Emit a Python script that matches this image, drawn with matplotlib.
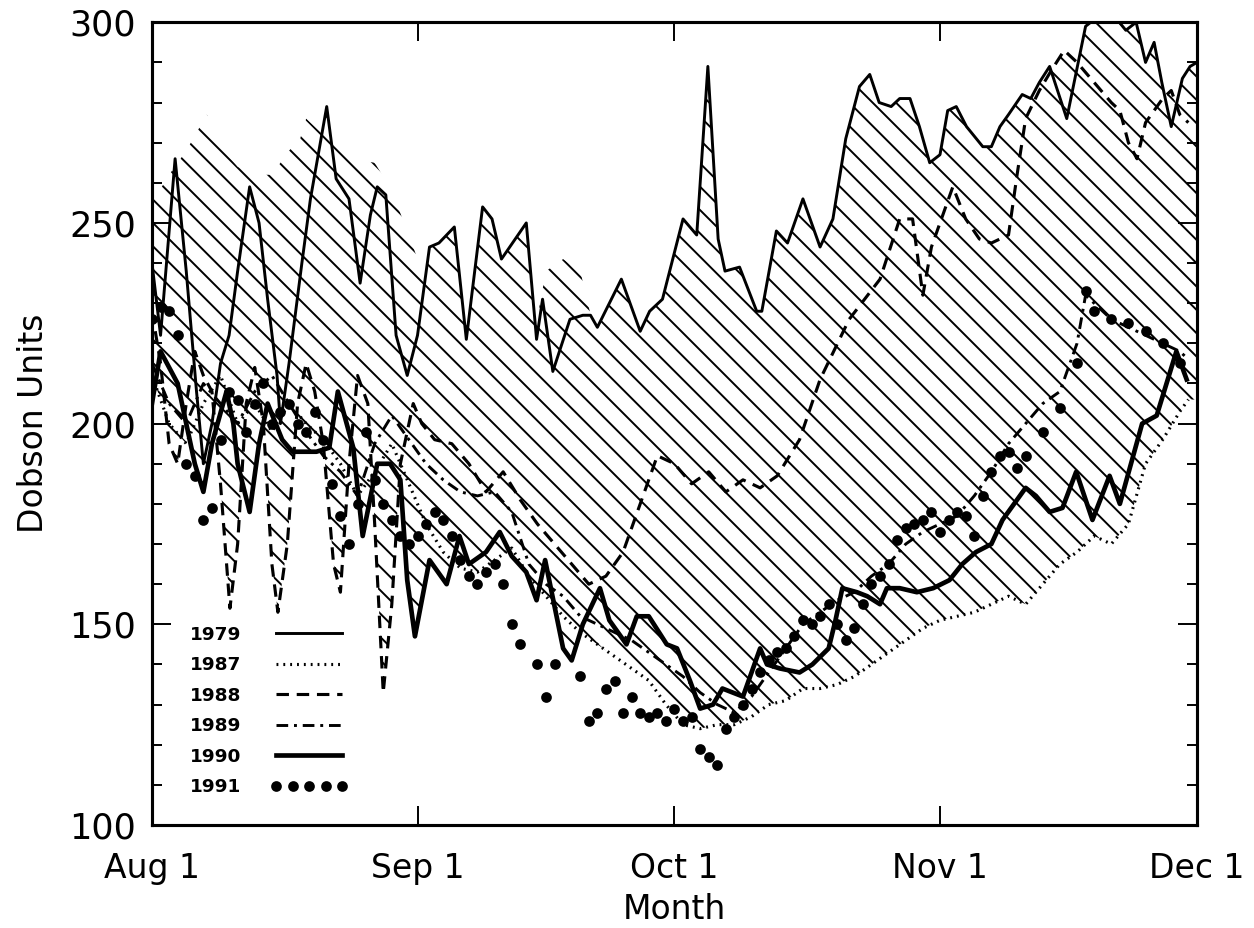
import numpy as np
import matplotlib
matplotlib.use('Agg')
import matplotlib.pyplot as plt
from matplotlib.ticker import MultipleLocator

plt.rcParams['font.family'] = ['DejaVu Sans']
plt.rcParams['hatch.linewidth'] = 1.0
plt.rcParams['hatch.color'] = 'black'

# days after Aug 1, total column ozone (Dobson Units)
d1979 = [0, 1, 2.7, 4, 5.2, 6, 7, 8, 9, 10, 11.4, 12.5, 13.5, 14.6, 15, 16, 17.5, 18.5, 20.4,
         21.5, 23, 24.3, 25.5, 26.3, 27.3, 28.5, 29.8, 31, 32.4, 33.5, 35.3, 36.7, 38.6, 39.7,
         40.8, 43.7, 44.9, 45.6, 46.8, 48.8, 50.3, 51.2, 52, 54.8, 57, 58.1, 59.6, 62, 63.6,
         64.9, 66.1, 66.9, 68.6, 70.6, 71.2, 72.9, 74.2, 76, 78, 79.5, 81, 82.6, 83.8, 84.9,
         86.3, 87.3, 88.5, 89.6, 90.8, 92, 92.9, 93.9, 95.1, 97, 98, 99, 100, 101.6, 102.6,
         103.6, 104.8, 106.8, 109, 110.2, 111.4, 113.7, 114.9, 116, 117, 117.9, 119, 120.3,
         121.2, 122]
v1979 = [240, 222, 266, 238, 208, 190, 200, 215, 222, 238, 259, 250, 231, 212, 200, 215, 240,
         256, 279, 261, 256, 235, 252, 259, 257, 222, 212, 222, 244, 245, 249, 221, 254, 251,
         241, 250, 221, 231, 213, 226, 227, 227, 224, 236, 223, 228, 231, 251, 247,
         289, 246, 238, 239, 228, 228, 248, 245, 256, 244, 251, 271, 284, 287, 280,
         279, 281, 281, 274, 265, 267, 278, 279, 274, 269, 269, 274, 277, 282, 281,
         285, 289, 276, 299, 301, 304, 298, 300, 290, 295, 285, 274, 286,
         289, 290]

d1987 = [0, 2, 4, 6, 8, 10, 12, 14, 16, 18, 20, 22, 24, 26, 28, 30, 32, 34, 36, 38, 40, 42,
         44, 46, 48, 50, 52, 54, 56, 58, 60, 62, 64, 66, 68, 70, 72, 74, 76, 78, 80, 82, 84,
         86, 88, 90, 92, 94, 96, 98, 100, 102, 104, 106, 108, 110, 112, 114, 116, 118, 120, 121]
v1987 = [212, 200, 195, 205, 212, 200, 205, 198, 205, 200, 196, 190, 182, 188, 195, 185, 175,
         168, 164, 163, 166, 169, 162, 157, 152, 148, 145, 142, 139, 136, 130, 125, 124, 125,
         125, 127, 130, 131, 134, 134, 135, 137, 140, 143, 146, 149, 151, 152, 153, 155, 157,
         155, 160, 165, 168, 172, 170, 175, 190, 196, 203, 206]

d1988 = [0, 1, 2, 3, 4, 5, 6, 7, 8, 9.1, 10, 11, 12, 13, 14, 14.7, 15.8, 17, 18, 19, 20,
         21.2, 22, 23, 24, 25.2, 26, 27, 28, 29, 30.5, 31.5, 33, 35, 37, 39, 41, 43, 45, 47,
         49, 51, 53, 55, 57, 59, 61, 63, 65, 67, 69, 71, 73, 75.6, 78, 81.4, 85, 87.3, 88.8,
         90, 91, 93.5, 95, 96.6, 98, 100, 101, 102, 103.6, 105, 106.5, 108, 110, 112, 113,
         114, 115, 116, 118, 119, 120, 121]
v1988 = [228, 215, 195, 190, 205, 218, 212, 208, 185, 154, 170, 205, 214, 200, 165, 153, 170,
         205, 215, 208, 195, 165, 158, 190, 212, 205, 175, 133, 155, 190, 205, 200, 196, 195,
         190, 183, 188, 181, 175, 170, 165, 160, 162, 168, 180, 192, 190, 185, 188, 183, 186,
         184, 187, 196, 211, 226, 236, 251, 251, 232, 244, 259, 251, 246, 245, 247, 262, 276,
         283, 288, 293, 290, 285, 280, 278, 270, 266, 275, 281, 283, 277, 275]

d1989 = [0, 2, 4, 6, 8, 10, 12, 14, 16, 18, 20, 22, 24, 26, 28, 30, 32, 34, 36, 38, 40, 42,
         44, 46, 48, 50, 52, 54, 56, 58, 60, 62, 64, 66, 68, 70, 72, 74, 76, 78, 80, 82, 84,
         86, 88, 90, 92, 94, 96, 98, 100, 102, 104, 106, 107, 108, 109, 110, 112, 114, 116,
         118, 120, 121]
v1989 = [215, 205, 200, 210, 205, 200, 208, 212, 205, 198, 192, 188, 182, 195, 202, 196, 190,
         186, 183, 182, 183, 178, 165, 160, 157, 152, 150, 148, 146, 143, 140, 137, 133, 130,
         128, 132, 138, 144, 150, 153, 156, 158, 162, 165, 170, 173, 175, 177, 182, 188, 195,
         200, 205, 208, 214, 220, 232, 230, 226, 224, 222, 220, 218, 216]

d1990 = [0, 1, 2, 3, 4, 5, 6, 7, 8.7, 9.5, 10, 11.4, 12.5, 13.5, 15.2, 16.4, 19.2, 20.7, 21.7,
         23.5, 24.6, 26.3, 27.8, 29, 29.8, 30.7, 32.4, 34.4, 35.9, 37, 39, 40.6, 42, 43.7,
         44.9, 45.9, 48, 49, 50.3, 52.3, 53.4, 55.4, 56.6, 58, 60.1, 61.3, 62.8, 64, 65.5,
         66.6, 69, 71, 71.8, 73.3, 75.6, 77.1, 79, 79.8, 80.6, 82.3, 83.5, 85, 85.8, 87.3,
         89.3, 91.2, 93.1, 94.6, 96.2, 98, 99.3, 102, 103.2, 104.8, 106.3, 107.9, 109.8,
         111.8, 113, 115.6, 117.3, 119.6, 120.8]
v1990 = [205, 218, 214, 210, 200, 190, 183, 195, 208, 200, 190, 178, 195, 205, 196, 193, 193,
         194, 208, 194, 172, 190, 190, 186, 161, 147, 166, 160, 172, 165, 168, 173, 167, 163,
         156, 166, 144, 141, 150, 159, 151, 145, 152, 152, 145, 144, 136, 129, 130,
         134, 132, 144, 140, 139, 138, 140, 144, 151, 159, 158, 157, 155, 159, 159,
         158, 159, 161, 165, 168, 170, 176, 184, 182, 178, 179, 188, 176,
         187, 180, 200, 202, 218, 211]

d1991 = [0, 1, 2, 3, 4, 5, 6, 7, 8, 9, 10, 11, 12, 13, 14, 15, 16, 17, 18, 19, 20, 21, 22,
         23, 24, 25, 26, 27, 28, 29, 30, 31, 32, 33, 34, 35, 36, 37, 38, 39, 40, 41, 42, 43,
         45, 46, 47, 50, 51, 52, 53, 54, 55, 56, 57, 58, 59, 60, 61, 62, 63, 64, 65, 66, 67,
         68, 69, 70, 71, 72, 73, 74, 75, 76, 77, 78, 79, 80, 81, 82, 83, 84, 85, 86, 87, 88,
         89, 90, 91, 92, 93, 94, 95, 96, 97, 98, 99, 100, 101, 102, 104, 106, 108, 109, 110,
         112, 114, 116, 118, 120]
v1991 = [226, 229, 228, 222, 190, 187, 176, 179, 196, 208, 206, 198, 205, 210, 200, 203, 205,
         200, 198, 203, 196, 185, 177, 170, 180, 198, 186, 180, 176, 172, 170, 172, 175, 178,
         176, 172, 166, 162, 160, 163, 165, 160, 150, 145, 140, 132, 140, 137, 126, 128, 134,
         136, 128, 132, 128, 127, 128, 126, 129, 126, 127, 119, 117, 115, 124, 127, 130, 134,
         138, 141, 143, 144, 147, 151, 150, 152, 155, 150, 146, 149, 155, 160, 162, 165, 171,
         174, 175, 176, 178, 173, 176, 178, 177, 172, 182, 188, 192, 193, 189, 192, 198, 204,
         215, 233, 228, 226, 225, 223, 220, 215]

# top edge of the shaded range where it rises above the plotted curves
d_top = [0, 2, 4, 5.6, 6.4, 8, 8.8, 10, 12, 14, 16, 17.3, 18, 20, 22, 23, 26, 28, 30.5, 32,
         44, 46, 48, 50, 52]
v_top = [255, 262, 268, 274, 277, 270, 267, 264, 262, 262, 268, 271, 276, 272, 268, 266, 265,
         258, 244, 235, 215, 238, 241, 238, 220]

month_days = [0, 31, 61, 92, 122]
month_labels = ['Aug 1', 'Sep 1', 'Oct 1', 'Nov 1', 'Dec 1']

fig = plt.figure(figsize=(1254 / 140, 928 / 140), dpi=140)
ax = fig.add_axes([0.1212, 0.111, 0.8333, 0.865])

# hatched range of the 1979-1990 curves
grid = np.linspace(0, 122, 2441)
curves = [np.interp(grid, d, v) for d, v in
          [(d1979, v1979), (d1987, v1987), (d1988, v1988), (d1989, v1989), (d1990, v1990)]]
top = np.interp(grid, d_top, v_top, left=0, right=0)
upper = np.maximum(np.max(curves, axis=0), top)
ax.fill_between(grid, np.min(curves, axis=0), upper,
                facecolor='none', edgecolor='black', hatch='\\\\', linewidth=0)

ax.plot(d1979, v1979, color='black', lw=1.5, label='1979')
ax.plot(d1987, v1987, color='black', lw=1.6, ls=(0, (0.6, 1.6)), label='1987')
ax.plot(d1988, v1988, color='black', lw=1.6, ls=(0, (4, 2.5)), label='1988')
ax.plot(d1989, v1989, color='black', lw=1.5, ls=(0, (4, 2, 1, 2)), label='1989')
ax.plot(d1990, v1990, color='black', lw=2.4, label='1990')
ax.plot(d1991, v1991, color='black', ls='none', marker='o', ms=4.5, label='1991')

ax.set_xlim(0, 122)
ax.set_ylim(100, 300)
ax.set_xticks(month_days)
ax.set_xticklabels(month_labels)
ax.yaxis.set_major_locator(MultipleLocator(50))
ax.yaxis.set_minor_locator(MultipleLocator(10))
ax.tick_params(axis='both', which='both', direction='in', top=True, right=True, width=1.0)
ax.tick_params(axis='x', which='major', length=10, pad=14, labelsize=17)
ax.tick_params(axis='y', which='major', length=10, pad=8, labelsize=18)
ax.tick_params(axis='y', which='minor', length=5)
for s in ax.spines.values():
    s.set_linewidth(1.6)

ax.set_xlabel('Month', fontsize=17, labelpad=4)
ax.set_ylabel('Dobson Units', fontsize=17, labelpad=10)

leg = ax.legend(loc='lower left', bbox_to_anchor=(0.02, 0.015), frameon=False,
                markerfirst=False, handlelength=4.2, numpoints=5, labelspacing=0.68,
                handletextpad=1.6, prop={'size': 9.5, 'weight': 'bold'})

fig.savefig('out.png', dpi=140)
